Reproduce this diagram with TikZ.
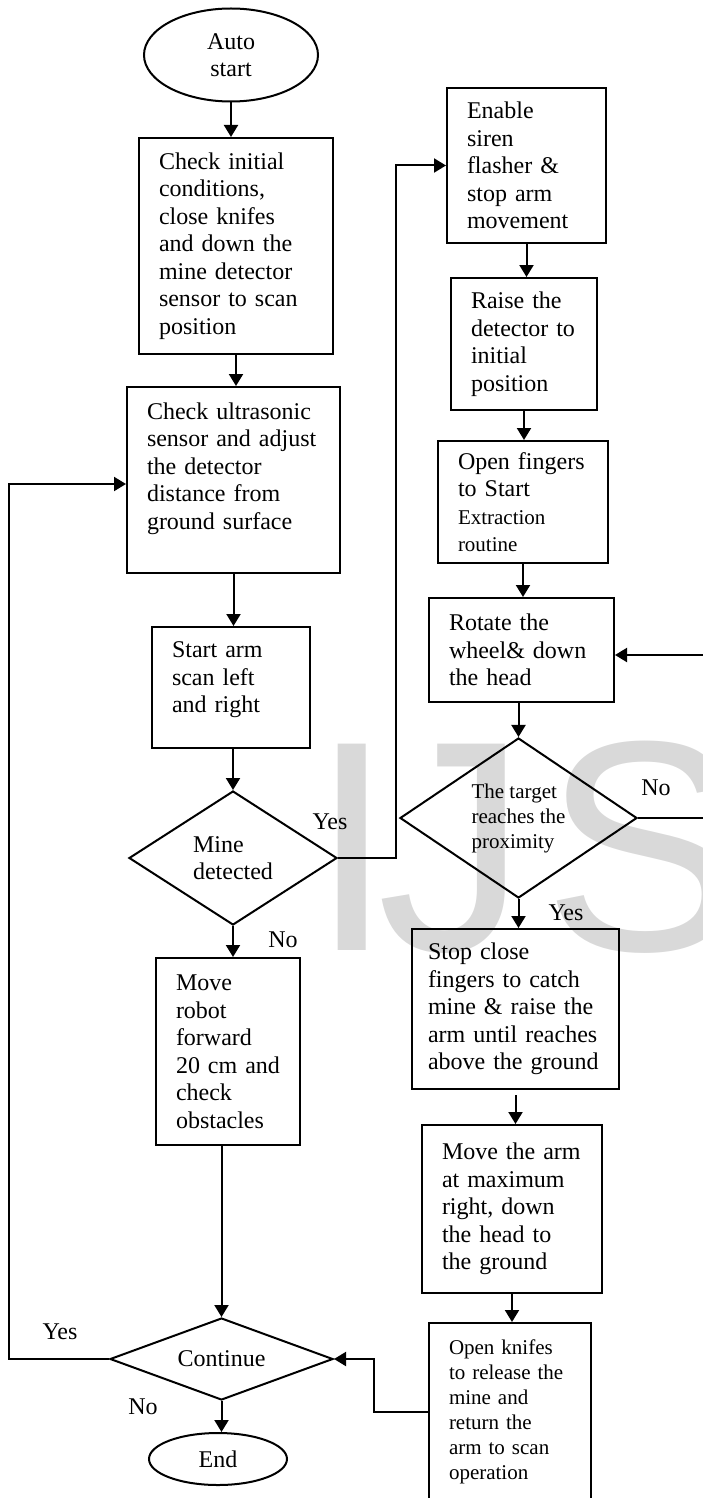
\documentclass[tikz,border=0pt]{standalone}
\usepackage{fontspec}
\setmainfont{Liberation Serif}
\newfontfamily\wmfont{Liberation Sans}
\usetikzlibrary{arrows.meta,shapes.geometric}
\definecolor{wmgray}{RGB}{217,217,217}
\newcommand{\smallfont}{\fontsize{10.5}{12.5}\selectfont}

\begin{document}
\begin{tikzpicture}[x=0.5pt,y=-0.5pt,line width=1pt]
    \useasboundingbox (0,0) rectangle (702,1498);
    \node[font=\wmfont\fontsize{150}{150}\selectfont,text=wmgray,
      anchor=base west,inner sep=0pt] (wm) at (309,950) {I\kern-8pt J\kern8pt S};

    \begin{scope}[every node/.style={draw=black,
        font=\fontsize{12}{13.75}\selectfont}]
      \node[shape=ellipse,minimum width=87pt,minimum height=46.5pt,
        inner sep=0pt,align=center] (auto) at (231,55) {Auto\\start};
      \node[shape=rectangle,text width=77pt,inner xsep=10pt,
        minimum height=108pt,align=left] (check) at (236,246)
           {Check initial\\conditions,\\close knifes\\and down the\\mine detector\\sensor to scan\\position};
      \node[shape=rectangle,text width=86.5pt,inner xsep=10pt,
        minimum height=93pt,text depth=69pt,align=left] (ultra) at (233.5,480)
           {Check ultrasonic\\sensor and adjust\\the detector\\distance from\\ground surface};
      \node[shape=rectangle,text width=59pt,inner xsep=10pt,
        minimum height=60.5pt,text depth=37.5pt,align=left] (scan) at (231,687.5)
           {Start arm\\scan left\\and right};
      \node[shape=diamond,minimum width=104pt,minimum height=67pt,
        shape aspect=1.55,inner sep=1pt,align=left] (mine) at (233,858)
           {Mine\\detected};
      \node[shape=rectangle,text width=52pt,inner xsep=10pt,
        minimum height=93.5pt,align=left] (move) at (228,1051.5)
           {Move\\robot\\forward\\20 cm and\\check\\obstacles};
      \node[shape=diamond,minimum width=111.5pt,minimum height=41pt,
        shape aspect=2.7,inner sep=1pt] (cont) at (221.5,1359) {Continue};
      \node[shape=ellipse,minimum width=69pt,minimum height=26pt,
        inner sep=0pt] (finish) at (218,1459) {End};

      \node[shape=rectangle,text width=59.5pt,inner xsep=10pt,
        minimum height=77.5pt,align=left] (siren) at (526.5,165.5)
           {Enable\\siren\\flasher \&\\stop arm\\movement};
      \node[shape=rectangle,text width=53pt,inner xsep=10pt,
        minimum height=66pt,align=left] (raise) at (524,344)
           {Raise the\\detector to\\initial\\position};
      \node[shape=rectangle,text width=65pt,inner xsep=10pt,
        minimum height=61pt,align=left] (fingers) at (523,502)
           {Open fingers\\to Start\\{\smallfont Extraction}\\{\smallfont routine}};
      \node[shape=rectangle,text width=72.5pt,inner xsep=10pt,
        minimum height=52pt,align=left] (rotate) at (521.5,650)
           {Rotate the\\wheel\& down\\the head};
      \node[shape=diamond,minimum width=118.5pt,minimum height=80pt,
        shape aspect=1.5,inner sep=1pt,align=left,font=\smallfont] (target) at (518.5,818)
           {The target\\reaches the\\proximity};
      \node[shape=rectangle,text width=87.5pt,inner xsep=8pt,
        minimum height=80pt,align=left] (catch) at (515.5,1009)
           {Stop close\\fingers to catch\\mine \& raise the\\arm until reaches\\above the ground};
      \node[shape=rectangle,text width=70pt,inner xsep=10pt,
        minimum height=84pt,align=left] (armright) at (512,1209)
           {Move the arm\\at maximum\\right, down\\the head to\\the ground};
      \node[shape=rectangle,text width=61pt,inner xsep=10pt,
        minimum height=88.5pt,align=left,font=\smallfont] (release) at (510,1411.5)
           {Open knifes\\to release the\\mine and\\return the\\arm to scan\\operation};
    \end{scope}

    \begin{scope}[every node/.style={font=\fontsize{12}{13.75}\selectfont}]
      \node (yesmine) at (330,822) {Yes};
      \node (nomine) at (283,940) {No};
      \node (notarget) at (656,788) {No};
      \node (yestarget) at (566,913) {Yes};
      \node (yescont) at (60,1332) {Yes};
      \node (nocont) at (143,1407) {No};
    \end{scope}

    \coordinate (leftrail) at (9,1359);
    \coordinate (yesrail) at (396,858);
    \coordinate (norail) at (708,818);
    \coordinate (backrail) at (374,1359);

    \begin{scope}[>={Triangle[length=6pt,width=7pt]},
        every edge/.style={draw=black}]
      \path [->] (auto) edge (auto |- check.north);
      \path [->] (check) edge (check |- ultra.north);
      \path [->] (ultra) edge (ultra |- scan.north);
      \path [->] (mine.north |- scan.south) edge (mine);
      \path [->] (mine) edge (mine |- move.north);
      \path [->] (cont.north |- move.south) edge (cont);
      \path [->] (cont) edge (cont |- finish.north);
      \path [->] (siren) edge (siren |- raise.north);
      \path [->] (raise) edge (raise |- fingers.north);
      \path [->] (fingers) edge (fingers |- rotate.north);
      \path [->] (target.north |- rotate.south) edge (target);
      \path [->] (target) edge (target |- catch.north);
      \path [->] ([yshift=-2.5pt]catch.south) edge (catch.south |- armright.north);
      \path [->] (armright) edge (armright |- release.north);

      \draw [->] (cont.west) -- (leftrail) |- ([yshift=-2pt]ultra.west);
      \draw [->] (mine.east) -- (yesrail) |- (siren.west);
      \draw [->] (target.east) -- (norail) |- ([yshift=-2.5pt]rotate.east);
      \draw [->] (release.west) -| (backrail) -- (cont.east);
    \end{scope}
  \end{tikzpicture}
\end{document}
